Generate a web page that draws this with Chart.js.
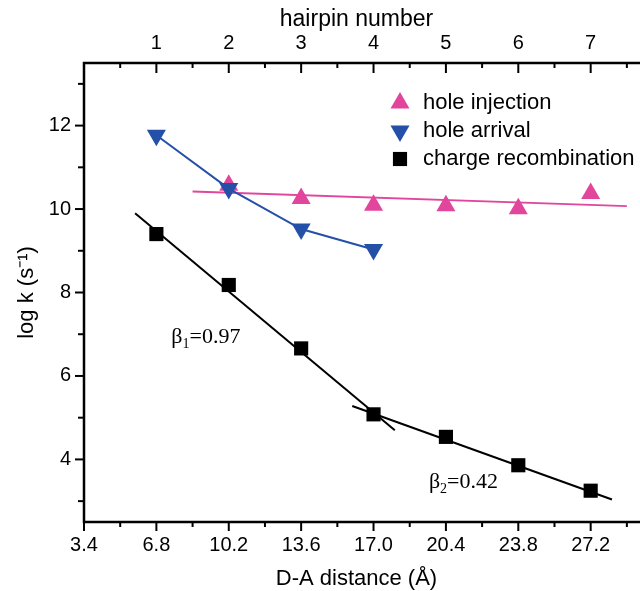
<!DOCTYPE html>
<html>
<head>
<meta charset="utf-8">
<script src="https://cdn.jsdelivr.net/npm/chart.js@4/dist/chart.umd.min.js"></script>
<style>
  html, body { margin: 0; padding: 0; background: #fff; }
  #wrap { width: 640px; height: 591px; }
</style>
</head>
<body>
<div id="wrap"><canvas id="chart"></canvas></div>
<script>
// D-A distance (Å) of hairpins 1..7
const distance = [6.8, 10.2, 13.6, 17.0, 20.4, 23.8, 27.2];
const holeInjection = [null, 10.57, 10.25, 10.09, 10.08, 10.01, 10.37];
const holeArrival = [11.77, 10.49, 9.52, 9.03];
const chargeRecombination = [9.40, 8.18, 6.66, 5.08, 4.54, 3.86, 3.25];

// fit lines, end points
const injectionFit = [[8.5, 10.42], [28.9, 10.07]];
const beta1Fit = [[5.8, 9.90], [18.0, 4.70]];
const beta2Fit = [[16.0, 5.28], [28.2, 3.04]];

const legendOrder = ['hole injection', 'hole arrival', 'charge recombination'];

const distanceTicks = [3.4, 6.8, 10.2, 13.6, 17.0, 20.4, 23.8, 27.2];
const hairpinTicks = [1, 2, 3, 4, 5, 6, 7];
const logkTicks = [4, 6, 8, 10, 12];

const xMin = 3.4, xMax = 29.0;
const yMin = 2.5, yMax = 13.5;

const PINK = '#e2459c';
const BLUE = '#2550a8';

const pts = (xs, ys) => xs.map((x, i) => ({ x: x, y: ys[i] })).filter(p => p.y != null);
const seg = (arr) => arr.map(p => ({ x: p[0], y: p[1] }));

// major ticks plus a minor tick halfway between them
function withMinor(majors, min, max) {
  const step = (majors[1] - majors[0]) / 2;
  const out = [];
  for (let v = majors[0] - step; v <= max + 1e-9; v += step) {
    if (v >= min - 1e-9) out.push(+v.toFixed(4));
  }
  return out;
}
const isMajor = (v, majors) => majors.some(m => Math.abs(m - v) < 1e-6);

Chart.defaults.font.family = "'Liberation Sans', Arial, sans-serif";
Chart.defaults.color = '#000';

const frameTicks = {
  id: 'frameTicks',
  afterDatasetsDraw(chart) {
    const { ctx, chartArea: a, scales } = chart;
    ctx.save();
    ctx.strokeStyle = '#000';
    ctx.lineWidth = 2.5;
    ctx.beginPath();
    ctx.moveTo(chart.width, a.top);
    ctx.lineTo(a.left, a.top);
    ctx.lineTo(a.left, a.bottom);
    ctx.lineTo(chart.width, a.bottom);
    ctx.stroke();
    ctx.lineWidth = 2;
    const line = (x1, y1, x2, y2) => { ctx.beginPath(); ctx.moveTo(x1, y1); ctx.lineTo(x2, y2); ctx.stroke(); };
    scales.x.ticks.forEach(t => {
      const p = scales.x.getPixelForValue(t.value);
      line(p, a.bottom, p, a.bottom + (t.label ? 9 : 5));
    });
    scales.x2.ticks.forEach(t => {
      const p = scales.x2.getPixelForValue(t.value);
      line(p, a.top, p, a.top + (t.label ? 10 : 5));
    });
    scales.y.ticks.forEach(t => {
      const p = scales.y.getPixelForValue(t.value);
      line(a.left, p, a.left - (t.label ? 9 : 6), p);
    });
    ctx.restore();
  }
};

const legendAndNotes = {
  id: 'legendAndNotes',
  afterDraw(chart) {
    const { ctx, chartArea: a, scales } = chart;
    ctx.save();
    // legend
    let y = a.top + 40;
    legendOrder.forEach(name => {
      const d = chart.data.datasets.find(ds => ds.label === name);
      const x = a.left + 316;
      ctx.fillStyle = d.backgroundColor;
      ctx.strokeStyle = d.backgroundColor;
      Chart.helpers.drawPoint(ctx, {
        pointStyle: d.pointStyle, radius: d.pointRadius,
        rotation: d.pointRotation || 0, borderWidth: 0
      }, x, y);
      ctx.fillStyle = '#000';
      ctx.font = "22px 'Liberation Sans', Arial, sans-serif";
      ctx.textBaseline = 'middle';
      ctx.textAlign = 'left';
      ctx.fillText(name, x + 23, y);
      y += 28;
    });
    // beta annotations
    const note = (sub, val, dx, dy) => {
      let x = scales.x.getPixelForValue(dx);
      const yy = scales.y.getPixelForValue(dy);
      ctx.fillStyle = '#000';
      ctx.textBaseline = 'alphabetic';
      ctx.font = "22px 'Liberation Serif', 'Times New Roman', serif";
      ctx.fillText('β', x, yy + 8);
      x += ctx.measureText('β').width;
      ctx.font = "14px 'Liberation Serif', 'Times New Roman', serif";
      ctx.fillText(sub, x, yy + 13);
      x += ctx.measureText(sub).width;
      ctx.font = "22px 'Liberation Serif', 'Times New Roman', serif";
      ctx.fillText('=' + val, x, yy + 8);
    };
    note('1', '0.97', 7.5, 6.98);
    note('2', '0.42', 19.6, 3.5);
    ctx.restore();
  }
};

new Chart(document.getElementById('chart'), {
  type: 'scatter',
  data: {
    datasets: [
      {
        label: 'beta1 fit', data: seg(beta1Fit), showLine: true,
        borderColor: '#000', borderWidth: 2, pointRadius: 0, order: 0
      },
      {
        label: 'beta2 fit', data: seg(beta2Fit), showLine: true,
        borderColor: '#000', borderWidth: 2, pointRadius: 0, order: 0
      },
      {
        label: 'charge recombination',
        data: pts(distance, chargeRecombination),
        pointStyle: 'rect', pointRadius: 10, pointBorderWidth: 0,
        backgroundColor: '#000', borderColor: '#000', order: 0
      },
      {
        label: 'hole arrival',
        data: pts(distance, holeArrival), showLine: true,
        pointStyle: 'triangle', pointRotation: 180, pointRadius: 11, pointBorderWidth: 0,
        backgroundColor: BLUE, borderColor: BLUE, borderWidth: 2, order: 1
      },
      {
        label: 'injection fit', data: seg(injectionFit), showLine: true,
        borderColor: PINK, borderWidth: 1.8, pointRadius: 0, order: 2
      },
      {
        label: 'hole injection',
        data: pts(distance, holeInjection),
        pointStyle: 'triangle', pointRadius: 11, pointBorderWidth: 0,
        backgroundColor: PINK, borderColor: PINK, order: 2
      }
    ]
  },
  options: {
    responsive: true,
    maintainAspectRatio: false,
    animation: false,
    events: [],
    layout: { padding: 0 },
    plugins: { legend: { display: false }, tooltip: { enabled: false } },
    scales: {
      x: {
        type: 'linear', position: 'bottom', min: xMin, max: xMax,
        grid: { display: false, drawTicks: false }, border: { display: false },
        afterBuildTicks: s => { s.ticks = withMinor(distanceTicks, xMin, xMax).map(v => ({ value: v })); },
        afterFit: s => { s.height = 69; },
        ticks: {
          autoSkip: false, maxRotation: 0, padding: 11, font: { size: 20 },
          callback: v => isMajor(v, distanceTicks) ? v.toFixed(1) : ''
        },
        title: {
          display: true, text: 'D-A distance (Å)',
          font: { size: 22, lineHeight: 1 }, padding: { top: 0, bottom: 1 }
        }
      },
      x2: {
        type: 'linear', position: 'top', min: xMin / 3.4 - 1, max: xMax / 3.4 - 1,
        grid: { display: false, drawTicks: false }, border: { display: false },
        afterBuildTicks: s => { s.ticks = withMinor(hairpinTicks, s.min, s.max).map(v => ({ value: v })); },
        afterFit: s => { s.height = 63; },
        ticks: {
          autoSkip: false, maxRotation: 0, padding: 8, font: { size: 20 },
          callback: v => isMajor(v, hairpinTicks) ? String(Math.round(v)) : ''
        },
        title: {
          display: true, text: 'hairpin number',
          font: { size: 23, lineHeight: 1 }, padding: { top: 8, bottom: 0 }
        }
      },
      y: {
        type: 'linear', position: 'left', min: yMin, max: yMax,
        grid: { display: false, drawTicks: false }, border: { display: false },
        afterBuildTicks: s => { s.ticks = withMinor(logkTicks, yMin, yMax).map(v => ({ value: v })); },
        afterFit: s => { s.width = 84; },
        ticks: {
          autoSkip: false, padding: 13, font: { size: 20 },
          callback: v => isMajor(v, logkTicks) ? String(v) : ''
        },
        title: {
          display: true, text: 'log k (s⁻¹)',
          font: { size: 22, lineHeight: 1 }, padding: { top: 16, bottom: 0 }
        }
      }
    }
  },
  plugins: [frameTicks, legendAndNotes]
});
</script>
</body>
</html>
